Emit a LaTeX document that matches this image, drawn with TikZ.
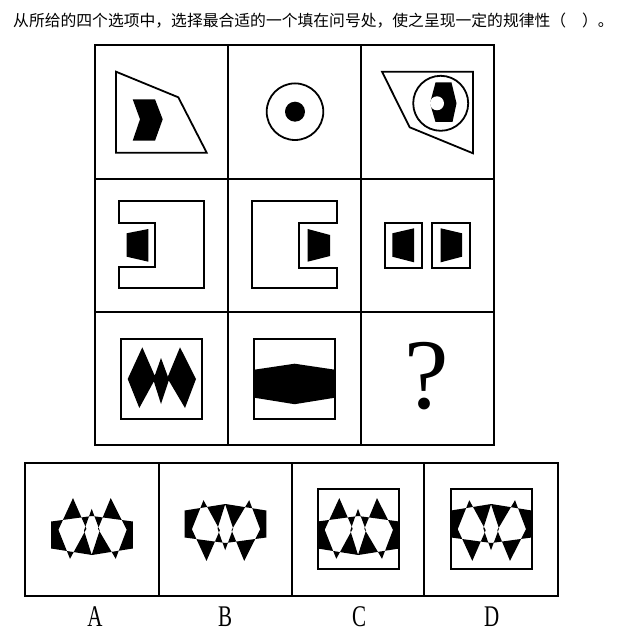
\documentclass[tikz,border=0pt]{standalone}
\usepackage{graphicx}
\usepackage{fontspec}
\newfontfamily\cjk{Noto Sans CJK SC}
\newfontfamily\lserif{Liberation Serif}
\tikzset{
  gridline/.style={line width=2.2pt},
  shp/.style={line width=1.8pt, line join=miter},
  lbl/.style={inner sep=0pt, font=\lserif\fontsize{30}{30}\selectfont},
}
\begin{document}
\begin{tikzpicture}[x=1pt,y=-1pt]
\useasboundingbox (0,0) rectangle (636,636);
\fill[white] (0,0) rectangle (636,636);
% title
\node[anchor=base west, inner sep=0pt, font=\cjk\fontsize{15.8}{16}\selectfont] (title) at (13,27) {从所给的四个选项中，选择最合适的一个填在问号处，使之呈现一定的规律性（　）。};
% grid
\draw[gridline] (95,45) rectangle (494,445);
\draw[gridline] (228,45) -- (228,445) (361,45) -- (361,445) (95,179) -- (494,179) (95,312) -- (494,312);
% cell 1,1
\draw[shp] (116,71.7) -- (178.3,97.3) -- (206.7,152.7) -- (116,152.7) -- cycle;
\fill (132.7,99.3) -- (155,99.3) -- (162.7,119.3) -- (155,140.7) -- (132.7,140.7) -- (140,119.3) -- cycle;
% cell 1,2
\draw[shp] (295,111.7) circle[radius=28.3pt];
\fill (295,111.7) circle[radius=10pt];
% cell 1,3
\draw[shp] (382,71.7) -- (473,71.7) -- (473,153.3) -- (409.7,127.3) -- cycle;
\draw[shp] (440.7,103.3) circle[radius=27.5pt];
\fill (430,103.3) -- (435.5,82.5) -- (451.5,82.5) -- (456.5,103.3) -- (452.5,122) -- (435.5,122) -- cycle;
\fill[white] (437,103.3) circle[radius=7pt];
% cell 2,1
\draw[shp] (119.3,201) -- (204,201) -- (204,288.3) -- (119.3,288.3) -- (119.3,266.7) -- (155,266.7) -- (155,222.7) -- (119.3,222.7) -- cycle;
\fill (126.7,233.3) -- (148.3,229) -- (148.3,261.7) -- (126.7,256.7) -- cycle;
% cell 2,2
\draw[shp] (252.3,201) -- (336.7,201) -- (336.7,222.7) -- (299,222.7) -- (299,267.7) -- (336.7,267.7) -- (336.7,288.3) -- (252.3,288.3) -- cycle;
\fill (307.7,229) -- (330,235) -- (330,256) -- (307.7,261.7) -- cycle;
% cell 2,3
\draw[shp] (385.3,223.3) rectangle (422,268.3);
\fill (392.3,233.3) -- (414,228.3) -- (414,262.3) -- (392.3,256.7) -- cycle;
\draw[shp] (432,223.3) rectangle (470,268.3);
\fill (440.7,228.3) -- (462,233.3) -- (462,256.7) -- (440.7,262.3) -- cycle;
% cell 3,1
\begin{scope}[shift={(161.3,378.7)}]
\draw[shp] (-40.3,-40) rectangle (40.3,40.3);
\fill (-19,-31.4) -- (-5.6,-0.7) -- (-22,29.3) -- (-33.6,0.3) -- cycle
      (-0.3,-20.7) -- (7.7,1) -- (-0.3,25.3) -- (-8,1) -- cycle
      (18.7,-31.4) -- (34.7,0.3) -- (23.7,29.3) -- (6,-0.7) -- cycle;
\end{scope}
% cell 3,2
\begin{scope}[shift={(294.6,378.7)}]
\draw[shp] (-40.3,-40) rectangle (40.3,40.3);
\fill (-40.3,-9) -- (0,-15) -- (40.3,-9) -- (40.3,19) -- (0,25.5) -- (-40.3,19) -- cycle;
\end{scope}
% cell 3,3
\node[inner sep=0pt, font=\lserif\fontsize{100}{100}\selectfont] (q) at (426.5,376) {?};
% options
\draw[gridline] (25,463) rectangle (558,596);
\draw[gridline] (159,463) -- (159,596) (292,463) -- (292,596) (424,463) -- (424,596);
% A
\begin{scope}[shift={(92,529.5)}]
\fill[even odd rule] (-40.8,-8) -- (0,-13.5) -- (40.8,-8) -- (40.8,19) -- (0,25.5) -- (-40.8,19) -- cycle
      (-19,-31.4) -- (-5.6,-0.7) -- (-22,29.3) -- (-33.6,0.3) -- cycle
      (-0.3,-20.7) -- (7.7,1) -- (-0.3,25.3) -- (-8,1) -- cycle
      (18.7,-31.4) -- (34.7,0.3) -- (23.7,29.3) -- (6,-0.7) -- cycle;
\end{scope}
% B
\begin{scope}[shift={(225.5,529.5)}, yscale=-1]
\fill[even odd rule] (-40.8,-8) -- (0,-13.5) -- (40.8,-8) -- (40.8,19) -- (0,25.5) -- (-40.8,19) -- cycle
      (-19,-31.4) -- (-5.6,-0.7) -- (-22,29.3) -- (-33.6,0.3) -- cycle
      (-0.3,-20.7) -- (7.7,1) -- (-0.3,25.3) -- (-8,1) -- cycle
      (18.7,-31.4) -- (34.7,0.3) -- (23.7,29.3) -- (6,-0.7) -- cycle;
\end{scope}
% C
\begin{scope}[shift={(358.3,529.5)}]
\draw[shp] (-40.7,-40.2) rectangle (41,39.8);
\fill[even odd rule] (-40.7,-8) -- (0,-13.5) -- (41,-8) -- (41,19) -- (0,25.5) -- (-40.7,19) -- cycle
      (-19,-31.4) -- (-5.6,-0.7) -- (-22,29.3) -- (-33.6,0.3) -- cycle
      (-0.3,-20.7) -- (7.7,1) -- (-0.3,25.3) -- (-8,1) -- cycle
      (18.7,-31.4) -- (34.7,0.3) -- (23.7,29.3) -- (6,-0.7) -- cycle;
\end{scope}
% D
\begin{scope}[shift={(491.3,529.5)}, yscale=-1]
\draw[shp] (-40.3,-39.8) rectangle (40.3,40.2);
\fill[even odd rule] (-40.3,-8) -- (0,-13.5) -- (40.3,-8) -- (40.3,19) -- (0,25.5) -- (-40.3,19) -- cycle
      (-19,-31.4) -- (-5.6,-0.7) -- (-22,29.3) -- (-33.6,0.3) -- cycle
      (-0.3,-20.7) -- (7.7,1) -- (-0.3,25.3) -- (-8,1) -- cycle
      (18.7,-31.4) -- (34.7,0.3) -- (23.7,29.3) -- (6,-0.7) -- cycle;
\end{scope}
% labels
\node[lbl] (la) at (95,617) {\scalebox{0.7}[1]{A}};
\node[lbl] (lb) at (225,617) {\scalebox{0.7}[1]{B}};
\node[lbl] (lc) at (359,617) {\scalebox{0.7}[1]{C}};
\node[lbl] (ld) at (491.7,617) {\scalebox{0.7}[1]{D}};
\end{tikzpicture}
\end{document}
